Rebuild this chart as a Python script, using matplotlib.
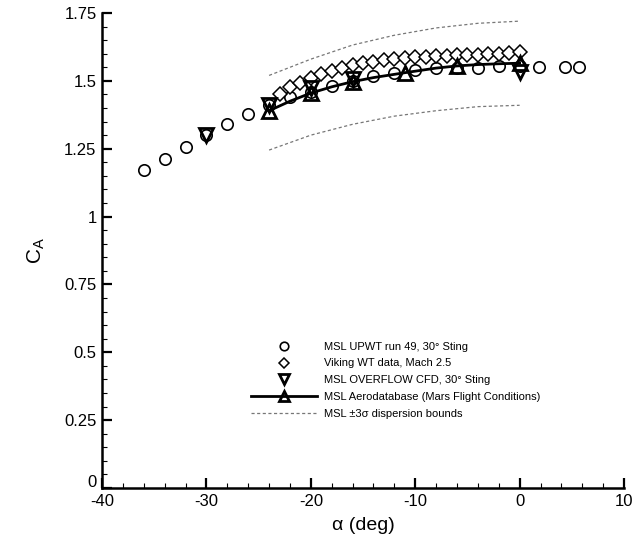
import matplotlib
matplotlib.use("Agg")
import matplotlib.pyplot as plt
from matplotlib.ticker import MultipleLocator
from matplotlib.transforms import ScaledTranslation

plt.rcParams['font.family'] = ['Liberation Sans', 'DejaVu Sans']
plt.rcParams['axes.unicode_minus'] = False

# MSL UPWT run 49, 30 deg sting (circles)
upwt_alpha = [-36, -34, -32, -30, -28, -26, -24, -22, -20, -18, -16, -14, -12, -10, -8, -6, -4, -2, 0, 1.9, 4.3, 5.7]
upwt_ca = [1.17, 1.213, 1.258, 1.30, 1.341, 1.378, 1.411, 1.44, 1.46, 1.481, 1.50, 1.517, 1.53, 1.54,
           1.546, 1.549, 1.549, 1.553, 1.555, 1.55, 1.55, 1.55]

# Viking WT data, Mach 2.5 (diamonds)
viking_alpha = [-23, -22, -21, -20, -19, -18, -17, -16, -15, -14, -13, -12,
                -11, -10, -9, -8, -7, -6, -5, -4, -3, -2, -1, 0]
viking_ca = [1.452, 1.476, 1.493, 1.509, 1.525, 1.538, 1.549, 1.559, 1.566, 1.571, 1.577, 1.58,
             1.584, 1.587, 1.589, 1.591, 1.593, 1.594, 1.596, 1.597, 1.598, 1.599, 1.601, 1.605]

# MSL OVERFLOW CFD (triangle down)
cfd_alpha = [-30, -24, -20, -16, 0]
cfd_ca = [1.30, 1.41, 1.473, 1.505, 1.532]

# MSL aerodatabase curve and its marked points
aero_alpha = [-24, -22, -20, -18, -16, -14, -11, -8, -6, -4, -2, 0]
aero_ca = [1.39, 1.425, 1.455, 1.478, 1.497, 1.512, 1.53, 1.547, 1.555, 1.56, 1.563, 1.565]
aero_marked = [0, 2, 4, 6, 8, 11]

# +/- 3 sigma dispersion bounds
disp_alpha = [-24, -20, -16, -12, -8, -4, 0]
disp_upper = [1.52, 1.58, 1.632, 1.668, 1.695, 1.712, 1.72]
disp_lower = [1.245, 1.30, 1.34, 1.37, 1.39, 1.405, 1.41]

fig = plt.figure(figsize=(6.42, 5.53), dpi=100)
ax = fig.add_axes([0.159, 0.1175, 0.813, 0.859])

ax.plot(upwt_alpha, upwt_ca, 'o', ms=8.2, mfc='none', mec='black', mew=1.2,
        label='MSL UPWT run 49, 30° Sting', zorder=3)
ax.plot(viking_alpha, viking_ca, 'D', ms=7, mfc='white', mec='black', mew=1.1,
        label='Viking WT data, Mach 2.5', zorder=4)
ax.plot(cfd_alpha, cfd_ca, 'v', ms=10, mfc='none', mec='black', mew=2,
        label='MSL OVERFLOW CFD, 30° Sting', zorder=5)
ax.plot(aero_alpha, aero_ca, '-^', color='black', lw=2, ms=10, mfc='none', mec='black', mew=2,
        markevery=aero_marked, label='MSL Aerodatabase (Mars Flight Conditions)', zorder=6)
ax.plot(disp_alpha, disp_upper, '--', color='#777777', lw=0.9, dashes=(2.5, 2),
        label='MSL ±3σ dispersion bounds', zorder=2)
ax.plot(disp_alpha, disp_lower, '--', color='#777777', lw=0.9, dashes=(2.5, 2), zorder=2)

ax.set_xlim(-40, 10)
ax.set_ylim(0, 1.75)
ax.xaxis.set_major_locator(MultipleLocator(10))
ax.xaxis.set_minor_locator(MultipleLocator(2))
ax.yaxis.set_minor_locator(MultipleLocator(0.05))
ax.set_yticks([0, 0.25, 0.5, 0.75, 1, 1.25, 1.5, 1.75])
ax.set_yticklabels(['0', '0.25', '0.5', '0.75', '1', '1.25', '1.5', '1.75'])

ax.spines['top'].set_visible(False)
ax.spines['right'].set_visible(False)
ax.spines['left'].set_linewidth(1.8)
ax.spines['bottom'].set_linewidth(1.8)
ax.tick_params(which='major', direction='in', length=7, width=1.6, labelsize=12, pad=4)
ax.tick_params(which='minor', direction='in', length=3.5, width=0.8)

# lift the y "0" a little so it does not run into the x "-40"
zero_lbl = ax.get_yticklabels()[0]
zero_lbl.set_transform(zero_lbl.get_transform() + ScaledTranslation(0, 5 / 72, fig.dpi_scale_trans))

ax.set_xlabel('α (deg)', fontsize=14, labelpad=6)
ax.set_ylabel(r'C$_\mathregular{A}$', fontsize=15, labelpad=12)

ax.legend(loc='upper left', bbox_to_anchor=(245 / 642, 1 - 336 / 553),
          bbox_transform=fig.transFigure, frameon=False, fontsize=8,
          numpoints=1, markerscale=0.75, handlelength=6, handletextpad=0.6,
          labelspacing=0.62, borderpad=0)

fig.savefig('out.png', dpi=100)
